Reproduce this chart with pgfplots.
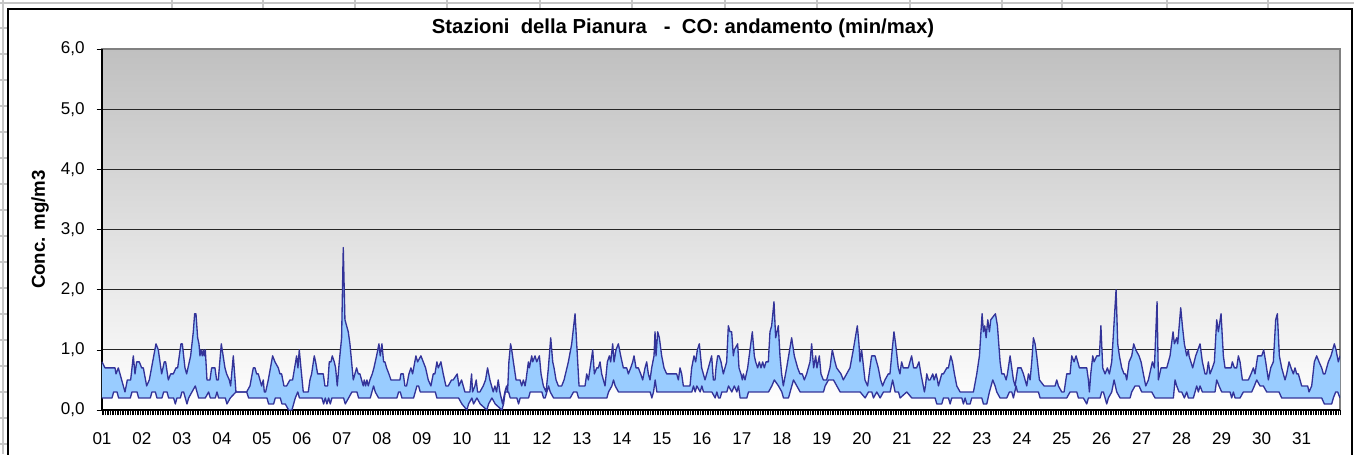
\documentclass[border=0pt]{standalone}
\usepackage{pgfplots}
\pgfplotsset{compat=1.18}
\usepackage{pgfplotstable}
\usepgfplotslibrary{fillbetween}
\usepackage{fontspec}
\setmainfont{Liberation Sans}
\definecolor{linec}{RGB}{51,51,153}
\definecolor{fillc}{RGB}{153,204,255}
\definecolor{bgtop}{RGB}{192,192,192}
\definecolor{bgmid}{RGB}{222,222,222}
\newcommand{\ticksize}{\fontsize{12.8}{14}\selectfont}

\pgfplotstableread{
h v
0 0.8
1.8 0.7
7.8 0.7
8.4 0.6
9.8 0.7
10.8 0.6
12.8 0.4
13.8 0.3
15.2 0.5
17.2 0.5
18.8 0.9
19.8 0.6
20.8 0.8
22.4 0.8
23.8 0.7
24.8 0.7
26.8 0.4
28.4 0.5
32.4 1.1
33.8 1.0
35.8 0.6
37.4 0.8
38.2 0.8
39.8 0.5
41.2 0.6
42.8 0.6
44.4 0.7
45.4 0.7
47.4 1.1
48.2 1.1
49.8 0.7
50.8 0.6
53.2 0.9
54.8 1.3
55.6 1.6
56.4 1.6
57.4 1.2
58.2 1.1
58.8 0.9
59.4 1.0
60.2 0.9
60.8 1.0
61.4 0.9
62 1.0
63 0.5
64.8 0.5
65.8 0.7
67.8 0.7
68.8 0.5
69.8 0.5
71.6 1.1
73.8 0.7
74.8 0.6
76.4 0.5
77.2 0.4
78.8 0.9
80.4 0.3
86.8 0.3
88.8 0.4
90.8 0.7
91.8 0.7
92.8 0.6
93.8 0.6
94.8 0.5
95.8 0.4
96.8 0.5
97.4 0.3
98.2 0.3
99.8 0.5
102.4 0.9
103.8 0.8
105.8 0.7
106.8 0.6
107.8 0.6
109.2 0.4
110.8 0.4
112.8 0.5
114.4 0.5
116.8 0.9
117.6 0.7
118.4 1.0
119.4 0.7
120.8 0.3
123.8 0.3
124.8 0.5
125.8 0.6
127.4 0.9
128.2 0.8
129.4 0.6
131.8 0.6
132.8 0.6
133.8 0.4
135.4 0.4
136.4 0.8
137.4 0.8
138.2 0.9
139.4 0.8
140.2 0.7
141.2 0.4
142.4 0.8
143.8 1.2
144.8 2.7
145.8 1.5
146.8 1.4
147.8 1.3
148.8 1.1
149.8 0.8
150.8 0.5
152.8 0.7
153.8 0.6
154.8 0.6
155.8 0.5
156.8 0.4
157.4 0.5
158.2 0.4
159 0.5
159.8 0.4
160.8 0.5
162.2 0.6
163.2 0.7
164.8 0.9
166.2 1.1
167 0.9
168 1.1
169 0.8
169.8 0.8
170.8 0.7
172.2 0.6
173.4 0.5
178.8 0.5
179.4 0.6
180.8 0.6
181.8 0.4
182.8 0.4
184.2 0.6
185.4 0.7
186.4 0.6
188.4 0.9
189.4 0.8
191.4 0.9
192.8 0.8
194.2 0.7
195.8 0.5
197.4 0.4
198.8 0.6
199.8 0.6
201 0.8
201.8 0.7
203.4 0.8
204.8 0.6
206.4 0.4
207.8 0.4
209.8 0.5
210.8 0.5
213.2 0.6
214.2 0.4
215.8 0.5
216.8 0.4
217.8 0.3
220.8 0.3
221.8 0.6
222.4 0.3
223.8 0.4
224.6 0.5
225.4 0.3
226.8 0.3
228.8 0.4
230.2 0.5
231.4 0.7
232.8 0.5
234.8 0.3
235.8 0.4
236.8 0.3
237.8 0.5
238.8 0.3
240.4 0.1
241.8 0.3
242.8 0.4
243.4 0.3
244.2 0.8
245.2 1.1
245.9 1.0
246.9 0.8
248.5 0.5
250.9 0.5
251.9 0.4
252.9 0.5
253.9 0.4
254.5 0.5
255.9 0.8
256.5 0.7
257.9 0.9
258.5 0.8
259.9 0.9
260.9 0.8
262.5 0.9
263.5 0.6
264.9 0.4
266.5 0.3
267.9 0.7
269.3 1.2
270.5 0.8
271.3 0.7
272.5 0.5
273.9 0.4
275.9 0.4
277.3 0.5
279.9 0.8
281.9 1.1
283.9 1.6
284.9 1.1
286.3 0.4
289.9 0.4
290.9 0.6
291.9 0.5
293.5 0.8
294.5 1.0
295.5 0.6
296.9 0.7
297.9 0.7
298.9 0.8
299.9 0.6
300.9 0.5
301.9 0.4
303.3 0.8
304.5 0.9
305.3 0.8
306.5 1.1
307.3 0.8
308.5 1.0
309.9 1.1
311.3 0.9
312.9 0.7
314.9 0.7
315.9 0.6
317.3 0.7
318.5 0.8
319.3 0.9
320.5 0.7
321.9 0.7
323.3 0.6
324.5 0.5
325.9 0.7
326.9 0.8
327.9 0.6
328.9 0.5
329.9 0.7
331.3 0.9
331.9 1.3
332.5 0.9
333.5 1.3
334.5 1.2
335.9 0.9
337.3 0.7
338.9 0.6
340.5 0.6
341.3 0.6
342.9 0.6
344.9 0.6
345.9 0.5
346.9 0.7
347.9 0.6
348.9 0.4
352.9 0.4
353.9 0.7
355.3 0.9
356.3 0.8
357.3 1.0
358.5 1.1
359.9 0.7
360.9 0.6
361.9 0.5
362.9 0.6
364.9 0.8
365.9 0.9
366.9 0.5
367.9 0.5
368.5 0.7
369.5 0.9
370.3 0.9
371.5 0.8
372.9 0.6
374.9 0.8
375.9 1.4
376.9 1.3
377.9 1.3
378.9 0.9
379.5 1.0
381.5 1.1
382.3 0.7
383.5 0.6
384.3 0.5
384.9 0.6
385.9 0.5
387.5 0.7
388.9 1.0
390.3 1.3
391.5 0.9
392.3 0.8
393.5 0.7
394.5 0.8
395.5 0.7
396.5 0.8
397.5 0.7
398.5 0.8
399.9 0.8
400.9 1.3
401.9 1.4
403.3 1.8
404.3 1.2
405.9 1.4
406.9 0.9
407.9 0.6
408.9 0.4
410.9 0.7
413.9 1.2
415.5 0.9
417.5 0.7
418.9 0.6
420.3 0.6
421.5 0.5
422.9 0.6
424.9 0.8
425.9 1.1
427.1 0.7
428.3 0.9
429.1 0.7
430.5 0.9
431.5 0.6
432.9 0.5
434.9 0.5
436.9 0.7
438.3 1.0
439.9 0.8
440.9 0.7
443.5 0.6
444.9 0.5
446.9 0.6
448.9 0.7
450.9 1.0
453.3 1.4
454.3 1.1
454.9 0.8
455.9 1.0
457.9 0.5
459.5 0.4
460.9 0.7
461.9 0.9
463.9 0.9
464.9 0.8
465.9 0.7
467.3 0.5
468.5 0.4
469.9 0.5
471.9 0.6
472.9 0.6
473.9 0.9
475.3 1.3
476.3 1.1
477.9 0.7
478.9 0.6
479.9 0.8
480.9 0.7
482.3 0.7
483.9 0.7
485.9 0.9
487.1 0.7
488.9 0.7
490.3 0.8
491.5 0.6
492.9 0.4
493.6 0.3
494.2 0.4
495 0.6
496 0.5
497 0.5
498.6 0.6
499.4 0.5
500.6 0.6
501.4 0.5
502 0.4
503 0.5
504 0.6
505 0.6
507 0.7
508 0.7
509.4 0.9
510.4 0.8
511.6 0.6
513 0.4
515 0.3
523 0.3
525 0.6
526.6 0.9
528.2 1.6
529 1.3
529.8 1.4
530.6 1.2
531.6 1.5
532.6 1.3
533.4 1.5
536.2 1.6
537.4 1.4
539 0.8
540 0.6
541.4 0.6
542.6 0.5
543.4 0.6
545 0.9
546 0.7
547 0.5
548 0.4
549.6 0.7
550.6 0.7
551.6 0.7
553 0.6
554 0.5
555 0.4
556 0.6
557 0.5
558 0.8
559 1.2
560 1.1
561 0.9
562.6 0.5
565.4 0.4
572 0.4
573 0.5
574 0.4
576 0.3
577.4 0.3
579 0.6
581 0.6
582 0.9
583.4 0.8
584.6 0.9
586.6 0.7
591 0.7
592 0.5
592.6 0.3
593.4 0.6
594.6 0.9
595.4 0.8
597 0.9
598.6 0.9
599.5 1.4
600.6 0.7
602 0.6
603.4 0.7
604.6 0.6
606 0.8
608.6 2.0
609.6 1.1
610.6 0.9
612 0.7
613.4 0.6
614.2 0.6
615 0.5
616.4 0.8
618 0.9
619.2 1.1
620.4 1.0
622.4 0.9
623.6 0.8
625 0.6
626.4 0.4
628 0.5
629.6 0.7
630.4 0.8
631.6 0.7
633.2 1.8
634 0.5
635.6 0.7
639 0.7
641 0.9
642.8 1.3
643.6 1.1
645 1.2
645.6 1.1
647.4 1.7
648.4 1.4
649.6 1.1
651 0.9
652 1.0
652.4 0.9
654.6 0.7
656.4 0.9
659 1.1
660.4 0.8
662 0.6
663 0.6
664 0.8
665 0.6
666.4 0.7
667.6 0.8
669 1.5
670 1.3
671.6 1.6
673 0.9
674 0.7
677.6 0.7
678.4 0.8
679.6 0.7
681 0.7
682 0.9
683 0.8
684.4 0.5
688 0.5
689.6 0.6
691 0.7
692 0.6
693.6 0.9
696 0.9
697.2 1.0
698.4 0.8
700 0.5
701.4 0.7
703 0.8
704.4 1.5
705.4 1.6
706.6 0.9
708 0.7
710 0.5
711 0.6
712.4 0.8
713.6 0.7
715 0.6
716 0.7
717 0.6
718 0.6
720 0.4
723.6 0.4
724.4 0.3
726 0.4
727.6 0.8
729 0.9
730.4 0.8
732 0.7
733 0.6
734 0.6
736 0.8
737.6 0.9
739.6 1.1
740.6 1.0
742 0.8
743 0.9
}\maxtab

\pgfplotstableread{
h v
0 0.2
6 0.2
7 0.3
9 0.3
10 0.2
17 0.2
18 0.3
21 0.3
22 0.2
29 0.2
30 0.3
32 0.3
33 0.2
36 0.2
37 0.3
39 0.3
40 0.2
43 0.2
44 0.1
45 0.2
47 0.2
48 0.3
49 0.3
50 0.2
51 0.1
52 0.2
54 0.3
56 0.4
57 0.3
58 0.2
62 0.2
64 0.3
65 0.2
68 0.2
69 0.3
70 0.2
74 0.2
75 0.1
77 0.2
80.4 0.3
86.8 0.3
88 0.2
99 0.2
100 0.1
103 0.1
104 0.2
107 0.2
108 0.1
110 0.1
112 0.0
114 0.0
115 0.1
116 0.2
117.5 0.3
118.5 0.2
132 0.2
133 0.1
134 0.2
135 0.1
136 0.2
137 0.1
138 0.2
145 0.2
146 0.1
148 0.2
150 0.3
153 0.3
154 0.2
161 0.2
162 0.3
163 0.4
164 0.3
166 0.2
177 0.2
178 0.3
179 0.3
180 0.2
187 0.2
188 0.3
189 0.4
190 0.4
191 0.3
200 0.3
201 0.2
214 0.2
216 0.1
219 0.0
220 0.1
222 0.2
223 0.1
225 0.2
227 0.1
231 0.0
232 0.1
234 0.2
236 0.1
240 0.0
241 0.1
242 0.3
244 0.3
245 0.2
249 0.2
250 0.1
251 0.2
256 0.2
257 0.3
264 0.3
265 0.2
266 0.2
267 0.3
268 0.4
269 0.3
271 0.2
281 0.2
283 0.3
285 0.3
286 0.2
303 0.2
304 0.3
306 0.4
307 0.5
308 0.4
310 0.3
329 0.3
330 0.2
331 0.3
332 0.5
333 0.3
354 0.3
355 0.4
356 0.3
357 0.4
359 0.3
360 0.4
361 0.3
366 0.3
368 0.2
369 0.3
370 0.2
371 0.2
372 0.3
375 0.3
376 0.4
378 0.3
379.5 0.4
381 0.3
382 0.4
383 0.2
387 0.2
388 0.3
400 0.3
402 0.4
403.5 0.5
406 0.4
408 0.3
409 0.2
412 0.2
413 0.3
415 0.5
417 0.4
419 0.3
433 0.3
434 0.4
436 0.5
439 0.5
441 0.4
443 0.3
455 0.3
458 0.2
460 0.3
462 0.3
463 0.2
465 0.3
467 0.2
469 0.3
473 0.3
474.5 0.5
476 0.3
478 0.3
479 0.2
483 0.3
486 0.2
500 0.2
501 0.1
504 0.1
505 0.2
508 0.2
509 0.1
510 0.2
516 0.2
517 0.1
518 0.2
519 0.1
521 0.1
522 0.2
528 0.2
529 0.1
531 0.1
532.6 0.3
534.6 0.5
536 0.4
537 0.3
539 0.2
543 0.2
544.6 0.3
546 0.3
547 0.2
548.6 0.4
549.4 0.3
562 0.3
563 0.2
579 0.2
581 0.3
585 0.3
586 0.2
589 0.2
591 0.1
592 0.2
599 0.2
600 0.3
601 0.3
602 0.2
603 0.1
604 0.2
606 0.3
607.4 0.5
609 0.3
611 0.2
617 0.2
618 0.3
620 0.4
622.4 0.4
624 0.3
630 0.3
632 0.2
643 0.2
644 0.5
645 0.4
646.4 0.3
648 0.3
649.6 0.2
651 0.3
652 0.2
655 0.2
656 0.3
657 0.4
658 0.3
659 0.4
660.4 0.3
668 0.3
669 0.5
670.4 0.4
672 0.3
677 0.3
678 0.2
679 0.3
680 0.2
683 0.2
685 0.3
690 0.3
691.6 0.4
693 0.5
695 0.4
697 0.4
699 0.3
706.4 0.3
708 0.2
732 0.2
733.6 0.1
738 0.1
739 0.2
740.4 0.3
741.6 0.3
743 0.2
}\mintab

\begin{document}
\begin{tikzpicture}
\begin{scope}[x=0.75pt,y=-0.75pt,shift={(-102,-410)}]
  \useasboundingbox (0,0) rectangle (1354,454);
  \draw[gray!45, line width=1.2pt] (0,3) -- (1354,3);
  \draw[gray!45, line width=1.2pt] (3,0) -- (3,454);
  \foreach \yy in {28,54,80,106,132,158,184,210,236,262,288,314,340,366,392,418,444}
    {\draw[gray!45, line width=1pt] (0,\yy) -- (8,\yy);}
  \foreach \xx in {172,263,355,447,540,632,725,817,910,1002,1062,1167,1268}
    {\draw[gray!45, line width=1pt] (\xx,0) -- (\xx,9);}
  \draw[black, line width=1.1pt] (8,470) -- (8,9) -- (1352,9) -- (1352,470);
\end{scope}
\begin{axis}[
  set layers,
  scale only axis, width=928.5pt, height=270.75pt,
  xmin=0, xmax=743, ymin=0, ymax=6,
  axis x line*=bottom, axis y line*=left,
  axis line style={black, line width=0.8pt, -},
  axis background/.style={shade, top color=bgtop, middle color=bgmid, bottom color=white, draw=gray, line width=0.8pt},
  ytick={1,2,3,4,5},
  extra y ticks={0,6},
  extra y tick style={grid=none},
  ymajorgrids,
  major grid style={black!85, line width=0.6pt},
  xtick={0,24,...,720},
  xticklabels={01,02,03,04,05,06,07,08,09,10,11,12,13,14,15,16,17,18,19,20,21,22,23,24,25,26,27,28,29,30,31},
  minor xtick={1,...,743},
  tick align=outside,
  major tick length=4pt, minor tick length=4pt,
  tick style={black, line width=0.45pt},
  tick label style={font=\ticksize},
  yticklabel style={xshift=-5.5pt, /pgf/number format/.cd, fixed, fixed zerofill, precision=1, use comma, assume math mode=true},
  xticklabel style={yshift=-9.5pt},
  ylabel={Conc. mg/m3},
  ylabel style={font=\bfseries\fontsize{14}{16}\selectfont, at={(axis description cs:-0.0501,0.5)}, anchor=center},
  every axis title shift=0pt,
  title={Stazioni\ \ della Pianura\ \ \ -\ \ CO: andamento (min/max)},
  title style={at={(axis description cs:0.4693,1.058)}, anchor=center, font=\bfseries\fontsize{15.2}{17}\selectfont},
]
\addplot[name path=mx, linec, line width=1pt, line join=round] table[x=h,y=v] {\maxtab};
\addplot[name path=mn, linec, line width=1pt, line join=round] table[x=h,y=v] {\mintab};
\addplot[fillc, draw=none] fill between[of=mx and mn];
\end{axis}
\end{tikzpicture}
\end{document}
